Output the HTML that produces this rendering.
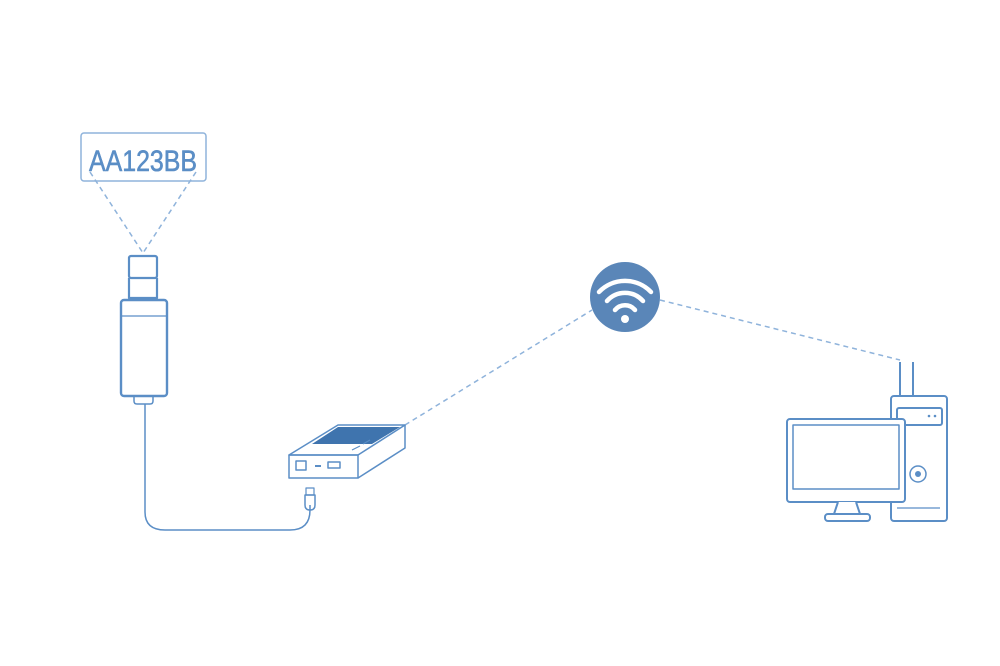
<!DOCTYPE html>
<html><head><meta charset="utf-8"><style>html,body{margin:0;padding:0;background:#fff}svg{display:block}</style></head>
<body>
<svg width="1000" height="666" viewBox="0 0 1000 666" xmlns="http://www.w3.org/2000/svg">
<g fill="none" stroke="#5b8ec6" stroke-width="2" stroke-linejoin="round">
  <!-- plate -->
  <rect x="81" y="133" width="125" height="48" rx="3" stroke="#8fb3db" stroke-width="1.5"/>
  <text x="143" y="171" font-family="Liberation Sans, sans-serif" font-size="30" fill="#5b8ec6" stroke="#5b8ec6" stroke-width="0.6" text-anchor="middle" textLength="108" lengthAdjust="spacingAndGlyphs">AA123BB</text>
  <g stroke="#8fb3db" stroke-width="1.5" stroke-dasharray="5,4">
    <line x1="90" y1="172" x2="143" y2="253"/>
    <line x1="196" y1="172" x2="143" y2="253"/>
    <line x1="405" y1="425" x2="592" y2="310"/>
    <line x1="660" y1="300" x2="900" y2="360"/>
  </g>
  <!-- camera -->
  <rect x="129" y="256" width="28" height="22" rx="2" stroke-width="2.2"/>
  <path d="M129 278 L129 298 L157 298 L157 278" stroke-width="2.2"/>
  <line x1="130" y1="278" x2="156" y2="278" stroke-width="1.2"/>
  <rect x="121" y="300" width="46" height="96" rx="3" stroke-width="2.4"/>
  <line x1="121" y1="316" x2="167" y2="316" stroke-width="1.2"/>
  <path d="M134 396 L134 401 Q134 404 137 404 L150 404 Q153 404 153 401 L153 396" stroke-width="1.5"/>
  <!-- cable -->
  <path d="M145 404 L145 512 Q145 530 165 530 L290 530 Q310 530 310 510 L310 505" stroke-width="1.5"/>
  <path d="M305 505 L305 495 L315 495 L315 505 Q315 510 310 510 Q305 510 305 505 Z" stroke-width="1.5"/>
  <rect x="306" y="488" width="8" height="7" stroke-width="1.2"/>
  <!-- box -->
  <path d="M289 455 L338 425 L405 425 L358 455 Z" stroke-width="1.5"/>
  <path d="M312 444 L338 427 L400 427 L372 444 Z" fill="#3f74ae" stroke="none"/>
  <rect x="289" y="455" width="69" height="23" stroke-width="1.5"/>
  <path d="M358 478 L405 448 L405 425" stroke-width="1.5"/>
  <rect x="296" y="461" width="10" height="9" stroke-width="1.5"/>
  <line x1="315" y1="466" x2="321" y2="466" stroke-width="2"/>
  <rect x="328" y="462" width="12" height="6" stroke-width="1.5"/>
  <line x1="352" y1="450" x2="360" y2="446" stroke-width="1.2"/>
  <line x1="363" y1="444" x2="370" y2="440" stroke-width="1.2"/>
  <!-- computer -->
  <line x1="900" y1="362" x2="900" y2="396"/>
  <line x1="913" y1="362" x2="913" y2="396"/>
  <rect x="891" y="396" width="56" height="125" rx="3"/>
  <rect x="897" y="408" width="45" height="17" rx="2"/>
  <circle cx="929" cy="416" r="1.3" fill="#5b8ec6" stroke="none"/>
  <circle cx="935" cy="416" r="1.3" fill="#5b8ec6" stroke="none"/>
  <circle cx="918" cy="474" r="8" stroke-width="1.5"/>
  <circle cx="918" cy="474" r="3" fill="#5b8ec6" stroke="none"/>
  <line x1="897" y1="508" x2="940" y2="508" stroke-width="1.2"/>
  <rect x="787" y="419" width="118" height="83" rx="3" fill="#fff"/>
  <rect x="793" y="425" width="106" height="64" stroke-width="1.5"/>
  <path d="M838 502 L834 514 L860 514 L856 502" fill="#fff"/>
  <rect x="825" y="514" width="45" height="7" rx="3" fill="#fff"/>
</g>
<!-- wifi -->
<circle cx="625" cy="297" r="35" fill="#5a86b8"/>
<g fill="none" stroke="#fff" stroke-width="4.5" stroke-linecap="round">
  <path d="M599 292 A36 36 0 0 1 651 292"/>
  <path d="M607 301 A24 24 0 0 1 643 301"/>
  <path d="M615 310 A13 13 0 0 1 635 310"/>
</g>
<circle cx="625" cy="319" r="4" fill="#fff"/>
</svg>
</body></html>
